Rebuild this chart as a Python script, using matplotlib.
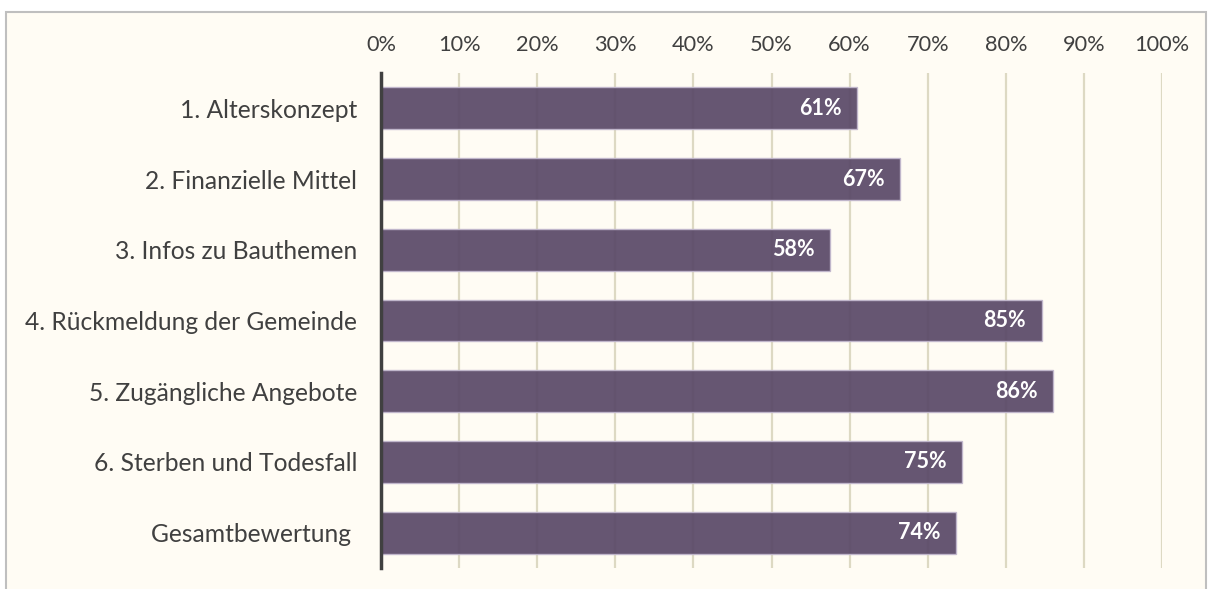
import matplotlib
matplotlib.use("Agg")
import matplotlib.pyplot as plt
from matplotlib.patches import Rectangle
from matplotlib.ticker import FuncFormatter

categories = ["1. Alterskonzept", "2. Finanzielle Mittel", "3. Infos zu Bauthemen",
              "4. Rückmeldung der Gemeinde", "5. Zugängliche Angebote",
              "6. Sterben und Todesfall", "Gesamtbewertung "]
values = [61.0, 66.5, 57.5, 84.6, 86.1, 74.4, 73.6]
value_labels = ["61%", "67%", "58%", "85%", "86%", "75%", "74%"]
xticks = list(range(0, 101, 10))

plt.rcParams['font.family'] = ['Lato', 'DejaVu Sans']

fig = plt.figure(figsize=(12.16, 5.89), dpi=100)
fig.patch.set_facecolor("white")
bg = "#FFFCF4"
frame = Rectangle((6/1216, -0.05), 1200/1216, 1.05 - 12/589, transform=fig.transFigure,
                  facecolor=bg, edgecolor="#BFBFBF", linewidth=1.5, zorder=-10)
fig.add_artist(frame)

ax = fig.add_axes([381/1216, 21/589, 781/1216, 495/589])
ax.set_zorder(5)
ax.patch.set_alpha(0)

y = list(range(len(categories)))
ax.barh(y, values, height=0.59, color="#5A4968", alpha=0.93, edgecolor="#C2B8CE",
        linewidth=1.0, zorder=2)
for yi, v, lab in zip(y, values, value_labels):
    ax.text(v - 2.0, yi, lab, ha="right", va="center", color="white",
            fontsize=15.5, fontweight="bold", zorder=3)

ax.set_xlim(0, 100)
ax.set_ylim(len(categories) - 0.5, -0.5)
ax.set_xticks(xticks)
ax.xaxis.set_major_formatter(FuncFormatter(lambda v, p: f"{int(v)}%"))
ax.xaxis.tick_top()
ax.set_yticks(y)
ax.set_yticklabels(categories)
ax.tick_params(axis="x", length=0, pad=13, labelsize=15.7, labelcolor="#404040")
ax.tick_params(axis="y", length=0, pad=17, labelsize=17.7, labelcolor="#404040")
ax.grid(axis="x", color="#DDD9C3", linewidth=1.6, zorder=1)
ax.set_axisbelow(True)
for s in ["top", "right", "bottom"]:
    ax.spines[s].set_visible(False)
ax.spines["left"].set_color("#404040")
ax.spines["left"].set_linewidth(2.5)
ax.spines["left"].set_zorder(4)

fig.savefig("out.png", dpi=100, facecolor="white")
